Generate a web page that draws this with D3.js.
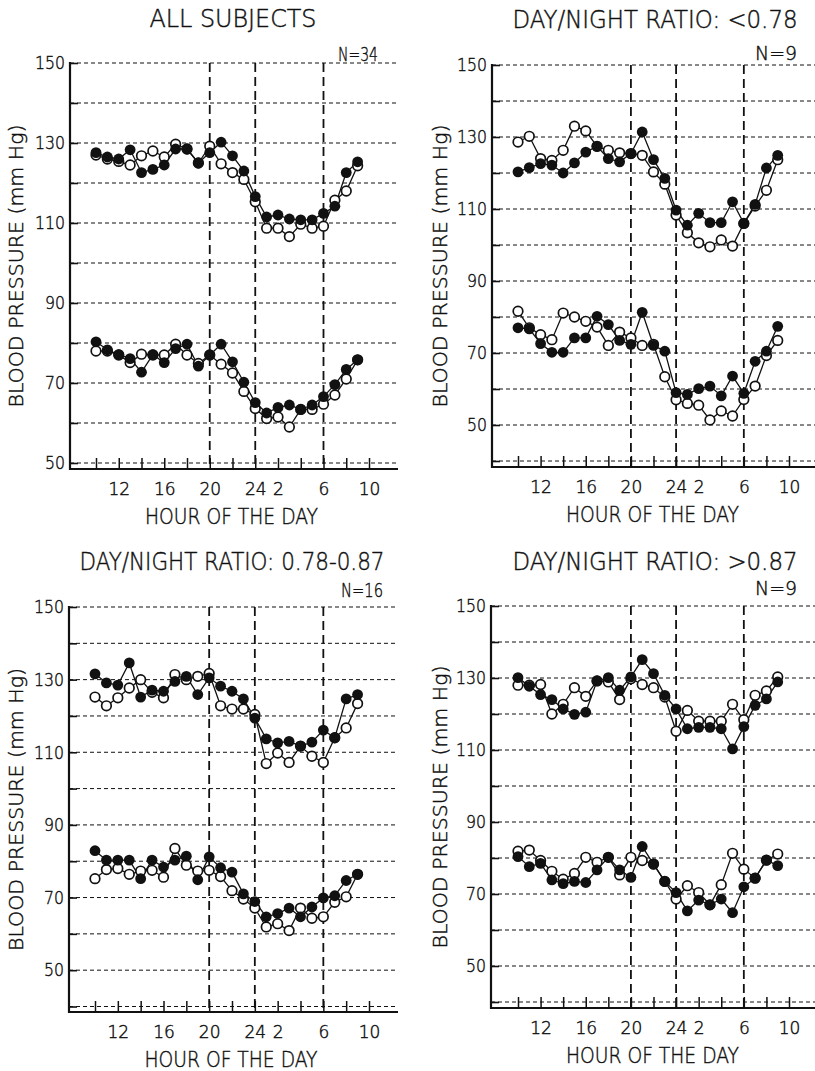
<!DOCTYPE html>
<html>
<head>
<meta charset="utf-8">
<script src="https://cdn.jsdelivr.net/npm/d3@7"></script>
<style>
  body { margin: 0; background: #fff; }
  svg text { font-family: "DejaVu Sans", sans-serif; font-weight: 200; fill: #111; stroke: #111; stroke-width: 0.45; }
</style>
</head>
<body>
<svg id="chart" width="815" height="1071"></svg>
<script>
// Hourly readings, 10:00 through 09:00 next morning (hours past midnight written as 24+h)
const hours = [10, 11, 12, 13, 14, 15, 16, 17, 18, 19, 20, 21, 22, 23, 24, 25, 26, 27, 28, 29, 30, 31, 32, 33];

// X axis ticks every two hours, labelled at selected clock hours
const xTickHours = [10, 12, 14, 16, 18, 20, 22, 24, 26, 28, 30, 32, 34];
const xLabelHours = [12, 16, 20, 24, 26, 30, 34];
const xLabelTexts = ["12", "16", "20", "24", "2", "6", "10"];
const markerHours = [20, 24, 30];

// Y axis labels (mm Hg)
const yLabelValues = [50, 70, 90, 110, 130, 150];

// ALL SUBJECTS (N=34)
const allSysFilled = [127.6, 126.5, 126, 128.3, 122.6, 123.4, 124.5, 128.5, 128.5, 125, 127.6, 130.2, 126.8, 123, 116.6, 111.5, 112, 111, 110.8, 110.8, 112.4, 114.2, 122.6, 125.3];
const allSysOpen   = [127, 126, 125.4, 124.5, 126.8, 128, 126.5, 129.7, 128.5, 125, 129.2, 124.8, 122.6, 120.9, 115.3, 108.7, 108.7, 106.6, 109.7, 108.7, 109.2, 115.7, 118, 124.3];
const allDiaFilled = [80.3, 78.3, 77.1, 76.1, 72.7, 77.1, 75.1, 78.6, 79.7, 74.2, 77, 79.7, 75.3, 70.2, 65.1, 62.5, 63.9, 64.5, 63.4, 64.5, 66.6, 69.6, 73.4, 75.8];
const allDiaOpen   = [78, 78, 77, 75.1, 77.2, 77, 77, 79.7, 77, 74.9, 77, 74.7, 72.5, 67.9, 63.6, 61.1, 61.5, 59, 63.4, 63.4, 64.7, 67, 71, 75.8];

// DAY/NIGHT RATIO < 0.78 (N=9)
const lowSysFilled = [120.3, 121.5, 122.6, 122.2, 120, 122.8, 125.8, 127.4, 124, 123.1, 125.4, 131.4, 123.7, 118.5, 109.7, 105.5, 108.8, 106.2, 106.2, 112, 106, 111.3, 121.4, 124.9];
const lowSysOpen   = [128.6, 130.2, 124, 123.5, 126.3, 133, 131.7, 127.4, 126.3, 125.6, 125.4, 124.9, 120.3, 116.9, 108.3, 103.4, 100.6, 99.5, 101.4, 99.7, 106, 110.8, 115.2, 123.7];
const lowDiaFilled = [77, 76.7, 72.6, 70.2, 70.2, 74.2, 74.2, 80.2, 77.9, 73.5, 72.4, 81.3, 72.1, 70.5, 59, 58.5, 60.1, 60.8, 58.1, 63.6, 58.8, 67.7, 70.5, 77.4];
const lowDiaOpen   = [81.6, 77, 75.1, 73.7, 81.1, 80, 78.8, 77.2, 72.1, 75.8, 74.2, 72.1, 72.4, 63.4, 57, 56, 55.5, 51.4, 53.9, 52.5, 57.1, 60.8, 69.3, 73.5];

// DAY/NIGHT RATIO 0.78-0.87 (N=16)
const midSysFilled = [131.6, 129.1, 128.5, 134.6, 125.2, 127.1, 126.8, 129.5, 130.9, 125.9, 130.5, 128.2, 126.8, 124.7, 119.4, 113.7, 112.6, 113, 111.7, 112.8, 116.1, 114, 124.7, 125.9];
const midSysOpen   = [125.2, 122.8, 125, 127.7, 130, 126.5, 125, 131.4, 130, 130.9, 131.7, 122.8, 121.9, 121.9, 120.4, 106.9, 109.8, 107.2, 111.7, 108.9, 107.2, 114, 116.7, 123.4];
const midDiaFilled = [82.9, 80.3, 80.3, 80.3, 75.2, 80.3, 78.4, 80.3, 81.4, 74.9, 81.2, 78.2, 77, 71, 68.9, 64.7, 65.6, 67.1, 64.7, 67.4, 69.9, 70.5, 74.7, 76.4];
const midDiaOpen   = [75.2, 77.7, 78, 76.4, 77.3, 77.5, 75.6, 83.5, 78.9, 77.3, 77.5, 75.8, 71.9, 69.6, 67.1, 61.9, 62.8, 60.9, 67.1, 64.3, 64.7, 68.7, 70.2, 76.4];

// DAY/NIGHT RATIO > 0.87 (N=9)
const highSysFilled = [130.1, 127.7, 125.4, 124, 121.4, 119.9, 120.5, 129.2, 130.1, 126.6, 130.3, 135.1, 131.2, 125.2, 121.4, 115.9, 116.3, 116.3, 115.9, 110.3, 116.5, 122.4, 124.2, 128.9];
const highSysOpen   = [128, 128, 128.2, 120, 122.7, 127.3, 124.9, 129.2, 128.9, 124, 129.8, 128.2, 127.3, 124.7, 115.2, 121, 118, 118, 118, 122.7, 118.4, 125.2, 126.4, 130.3];
const highDiaFilled = [80.4, 77.6, 78.5, 73.9, 72.9, 73.5, 73.2, 76.7, 80.2, 76.7, 74.6, 83.2, 78.3, 73.5, 70.4, 65.3, 68.3, 67, 68.6, 64.8, 72, 74.4, 79.4, 77.9];
const highDiaOpen   = [81.9, 82.2, 79.3, 76.3, 74.1, 75.7, 80.2, 78.8, 80.2, 75.3, 80.2, 79.3, 78.3, 73.5, 68.6, 72.3, 70.4, 67, 72.6, 81.3, 76.9, 74.4, 79.4, 81.1];

// Panel layout: frame positions and series
const panels = [
  { title: "ALL SUBJECTS", titleX: 233, titleY: 27, titleLen: 167,
    n: "N=34", nRight: 378, nY: 61, nLen: 40,
    axisX: 70, x0: 96, x1: 369, yMin: 50, yTop: 63, yBottom: 463, axisY: 469, right: 398,
    yTitleX: 16,
    series: [allSysFilled, allSysOpen, allDiaFilled, allDiaOpen] },
  { title: "DAY/NIGHT RATIO: <0.78", titleX: 655, titleY: 28, titleLen: 285,
    n: "N=9", nRight: 797, nY: 60, nLen: 42,
    axisX: 492, x0: 518, x1: 789, yMin: 40, yTop: 65, yBottom: 461, axisY: 467, right: 815,
    yTitleX: 440,
    series: [lowSysFilled, lowSysOpen, lowDiaFilled, lowDiaOpen] },
  { title: "DAY/NIGHT RATIO: 0.78-0.87", titleX: 232, titleY: 570, titleLen: 305,
    n: "N=16", nRight: 383, nY: 597, nLen: 42,
    axisX: 69, x0: 95, x1: 369, yMin: 40, yTop: 607, yBottom: 1006.5, axisY: 1012, right: 398,
    yTitleX: 16,
    series: [midSysFilled, midSysOpen, midDiaFilled, midDiaOpen] },
  { title: "DAY/NIGHT RATIO: >0.87", titleX: 655, titleY: 570, titleLen: 285,
    n: "N=9", nRight: 797, nY: 595, nLen: 42,
    axisX: 491, x0: 518, x1: 789, yMin: 40, yTop: 606, yBottom: 1002, axisY: 1008, right: 815,
    yTitleX: 440,
    series: [highSysFilled, highSysOpen, highDiaFilled, highDiaOpen] }
];

const svg = d3.select("#chart");
const ink = "#111";
const fontStack = '"DejaVu Sans", sans-serif';

function drawPanel(p) {
  const g = svg.append("g");
  const x = d3.scaleLinear().domain([10, 34]).range([p.x0, p.x1]);
  const y = d3.scaleLinear().domain([p.yMin, 150]).range([p.yBottom, p.yTop]);
  const gridValues = d3.range(p.yMin, 151, 10);

  // Horizontal fine-dashed grid
  g.append("g").selectAll("line").data(gridValues).join("line")
    .attr("x1", p.axisX).attr("x2", p.right)
    .attr("y1", d => y(d)).attr("y2", d => y(d))
    .attr("stroke", ink).attr("stroke-width", 1)
    .attr("stroke-dasharray", "4,3");

  // Heavy dashed markers at 20:00, 24:00 and 06:00
  g.append("g").selectAll("line").data(markerHours).join("line")
    .attr("x1", d => x(d)).attr("x2", d => x(d))
    .attr("y1", y(150)).attr("y2", p.axisY)
    .attr("stroke", ink).attr("stroke-width", 1.8)
    .attr("stroke-dasharray", "9,5");

  // Y axis
  const yAxis = d3.axisLeft(y)
    .tickValues(gridValues)
    .tickSize(-8)
    .tickSizeOuter(0)
    .tickPadding(5)
    .tickFormat(v => yLabelValues.includes(v) ? String(v) : "");
  const ya = g.append("g").attr("transform", `translate(${p.axisX},0)`).call(yAxis);
  ya.select(".domain").remove();
  ya.selectAll(".tick line").attr("stroke", ink).attr("stroke-width", 1.6);
  ya.selectAll(".tick text").attr("font-size", 18).attr("fill", ink)
    .attr("font-family", fontStack).attr("font-weight", 200)
    .attr("textLength", v => String(v).length * 10).attr("lengthAdjust", "spacingAndGlyphs");
  g.append("line")
    .attr("x1", p.axisX).attr("x2", p.axisX)
    .attr("y1", y(150) - 1).attr("y2", p.axisY + 1)
    .attr("stroke", ink).attr("stroke-width", 2.2);

  // X axis
  const xAxis = d3.axisBottom(x)
    .tickValues(xTickHours)
    .tickSize(-11)
    .tickSizeOuter(0)
    .tickPadding(14)
    .tickFormat(h => {
      const i = xLabelHours.indexOf(h);
      return i >= 0 ? xLabelTexts[i] : "";
    });
  const xa = g.append("g").attr("transform", `translate(0,${p.axisY})`).call(xAxis);
  xa.select(".domain").remove();
  xa.selectAll(".tick line").attr("stroke", ink).attr("stroke-width", 1.5);
  xa.selectAll(".tick text").attr("font-size", 17).attr("fill", ink)
    .attr("font-family", fontStack).attr("font-weight", 200);
  g.append("line")
    .attr("x1", p.axisX - 1).attr("x2", p.right)
    .attr("y1", p.axisY).attr("y2", p.axisY)
    .attr("stroke", ink).attr("stroke-width", 2);

  // Titles
  g.append("text").attr("x", p.titleX).attr("y", p.titleY)
    .attr("text-anchor", "middle").attr("font-size", 24)
    .attr("textLength", p.titleLen).attr("lengthAdjust", "spacingAndGlyphs")
    .text(p.title);
  g.append("text").attr("x", p.nRight - p.nLen).attr("y", p.nY)
    .attr("font-size", 20)
    .attr("textLength", p.nLen).attr("lengthAdjust", "spacingAndGlyphs")
    .text(p.n);
  g.append("text")
    .attr("transform", `translate(${p.yTitleX + 7},${(y(150) + p.axisY) / 2}) rotate(-90)`)
    .attr("text-anchor", "middle").attr("font-size", 20)
    .attr("textLength", 283).attr("lengthAdjust", "spacingAndGlyphs")
    .text("BLOOD PRESSURE (mm Hg)");
  g.append("text")
    .attr("x", (p.x0 + p.x1) / 2 - 1).attr("y", p.axisY + 55)
    .attr("text-anchor", "middle").attr("font-size", 22)
    .attr("textLength", 173).attr("lengthAdjust", "spacingAndGlyphs")
    .text("HOUR OF THE DAY");

  // Series: lines first, then open circles, then filled circles
  const line = d3.line().x((d, i) => x(hours[i])).y(d => y(d));
  const [sysF, sysO, diaF, diaO] = p.series;
  [sysF, sysO, diaF, diaO].forEach(s => {
    g.append("path").datum(s).attr("d", line)
      .attr("fill", "none").attr("stroke", ink).attr("stroke-width", 1.3);
  });
  [sysO, diaO].forEach(s => {
    g.append("g").selectAll("circle").data(s).join("circle")
      .attr("cx", (d, i) => x(hours[i])).attr("cy", d => y(d))
      .attr("r", 4.8).attr("fill", "#fff")
      .attr("stroke", ink).attr("stroke-width", 1.7);
  });
  [sysF, diaF].forEach(s => {
    g.append("g").selectAll("circle").data(s).join("circle")
      .attr("cx", (d, i) => x(hours[i])).attr("cy", d => y(d))
      .attr("r", 5.4).attr("fill", ink);
  });
}

panels.forEach(drawPanel);
</script>
</body>
</html>
